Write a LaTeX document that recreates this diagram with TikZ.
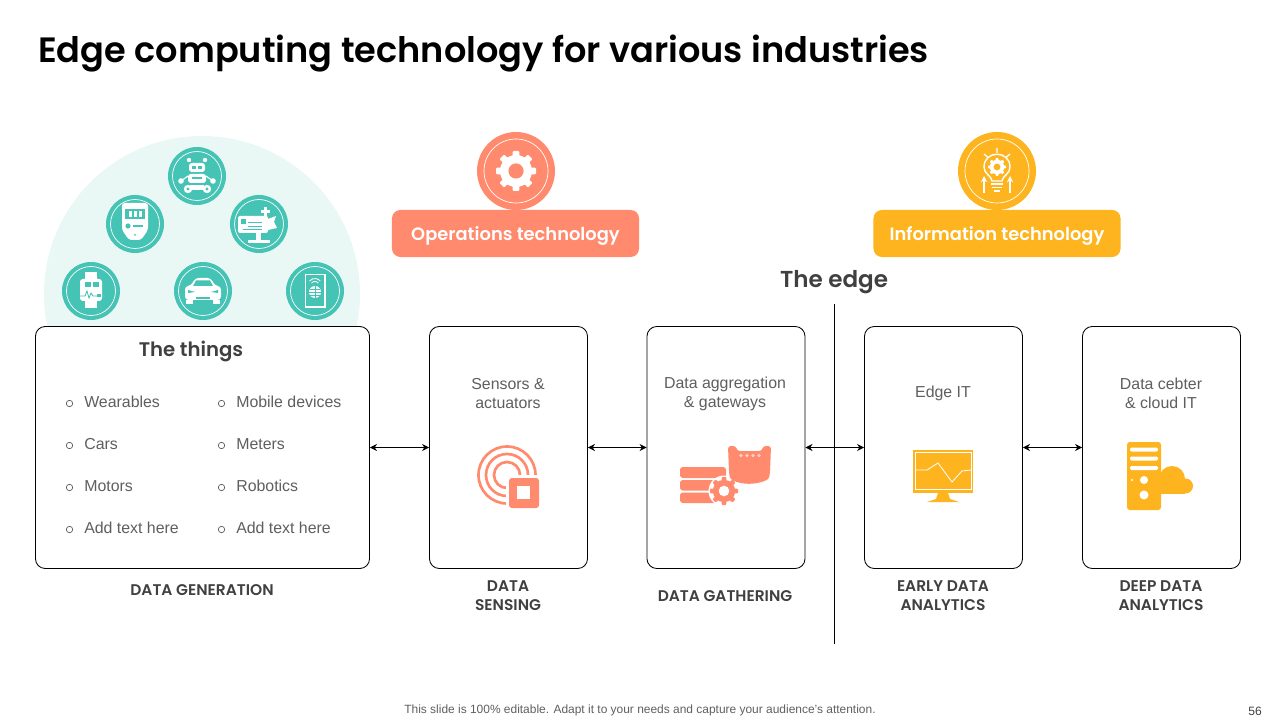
\documentclass[tikz,border=0pt]{standalone}
\usepackage{fontspec}
\setmainfont{Liberation Sans}
\newfontfamily\headfont{Poppins SemiBold}
\usetikzlibrary{arrows,arrows.meta,calc,positioning}
\definecolor{tealmark}{HTML}{45C3B4}
\definecolor{tealpale}{HTML}{E9F8F5}
\definecolor{coralmark}{HTML}{FF8A6D}
\definecolor{ambermark}{HTML}{FDB41E}
\definecolor{inkdark}{HTML}{404040}
\definecolor{inkgray}{HTML}{5F5F5F}
\tikzset{
  stagebox/.style={draw=black,line width=0.6pt,fill=white,rounded corners=7pt,
    minimum height=6.05cm,minimum width=3.95cm,inner sep=0pt},
  tagbox/.style={rounded corners=6pt,minimum height=1.175cm,minimum width=6.175cm,
    inner sep=0pt,text=white,font=\headfont\fontsize{12.7}{16}\selectfont},
  headtext/.style={text=inkdark,inner sep=0pt,font=\headfont\fontsize{#1}{#1}\selectfont},
  captext/.style={text=inkdark,inner sep=0pt,align=center,
    font=\headfont\fontsize{11}{13.5}\selectfont},
  bodytext/.style={text=inkgray,inner sep=0pt,align=center,
    font=\fontsize{11.3}{13.5}\selectfont},
  ring/.style={draw=white,line width=0.5pt},
  link/.style={{Stealth[length=5pt,width=5pt]}-{Stealth[length=5pt,width=5pt]},line width=0.6pt},
}
\newcommand{\cogwheel}[5]{%
  \foreach \a in {0,45,...,315}
    \fill[#4,rounded corners=0.6pt,shift={(#1,#2)},rotate=\a] ({-.2*#3},0) -- ({-.16*#3},#3) -- ({.16*#3},#3) -- ({.2*#3},0) -- cycle;
  \fill[#4] (#1,#2) circle ({.8*#3});
  \fill[#5] (#1,#2) circle ({.38*#3});
}
\begin{document}
\begin{tikzpicture}[x=0.025cm,y=-0.025cm,>=stealth]
    \useasboundingbox (0,0) rectangle (1280,720);
    \node[anchor=west,inner sep=0pt,text=black,font=\headfont\fontsize{25}{30}\selectfont]
      (title) at (38,54) {Edge computing technology for various industries};
    % --- the dome with its discs ---
    \fill[tealpale] (202,294) circle (158);
    \foreach \x/\y in {197/176,135/224,259/224,91/291,203/291,315/291} {
      \fill[tealmark] (\x,\y) circle (29);
      \draw[ring] (\x,\y) circle (24.5);
    }
    % robot
    \fill[white,rounded corners=2pt] (189,163) rectangle (205,172);
    \fill[tealmark] (192,166) rectangle (196,169);
    \fill[tealmark] (198,166) rectangle (202,169);
    \fill[white] (189,160) circle (2.2);
    \fill[white] (205,160) circle (2.2);
    \fill[white,rounded corners=2pt] (188,174) rectangle (206,183);
    \fill[tealmark] (192,177) rectangle (202,179);
    \fill[white] (181,181) circle (2.8);
    \fill[white] (213,181) circle (2.8);
    \draw[white,line width=0.8pt] (188,176) -- (181,181) (206,176) -- (213,181);
    \fill[white] (190,185) rectangle (204,190);
    \fill[white] (188,189) circle (4.2);
    \fill[white] (207,189) circle (4.2);
    \fill[tealmark] (188,189) circle (1.6);
    \fill[tealmark] (207,189) circle (1.6);
    % meter
    \fill[white,rounded corners=2pt] (122,203) -- (148,203) -- (148,230) -- (141,240) -- (129,240) -- (122,230) -- cycle;
    \fill[tealmark] (125,209) rectangle (145,219);
    \foreach \x in {130,135,140}
      \fill[white] (\x-1.5,211) rectangle (\x+1.5,217);
    \fill[tealmark] (128,226) circle (2.6);
    \fill[tealmark] (133,225) rectangle (143,227);
    \fill[tealmark] (135,235) circle (1);
    % motor
    \fill[white,rounded corners=1.5pt] (238,216) rectangle (268,233);
    \fill[tealmark] (241,219) rectangle (246,224);
    \draw[tealmark,line width=0.5pt] (248,222) -- (262,222) (248,226) -- (262,226) (243,229) -- (262,229);
    \fill[white] (264,207) rectangle (267,217);
    \fill[white] (261,210) rectangle (270,213);
    \fill[white] (268,219) -- (276,216) -- (274,222) -- (277,228) -- (268,230) -- cycle;
    \fill[white] (256,233) rectangle (261,241);
    \fill[white] (248,240) rectangle (270,243);
    % watch
    \fill[white] (85,272) rectangle (97,280);
    \fill[white] (85,300) rectangle (97,308);
    \fill[white,rounded corners=2pt] (80,279) rectangle (102,301);
    \fill[tealmark] (85,282) rectangle (91,287);
    \fill[tealmark] (93,282) rectangle (99,287);
    \draw[tealmark,line width=0.6pt] (79,296) -- (85,296) -- (87,291) -- (89,298) -- (91,293) -- (93,296) -- (97,296);
    \fill[tealmark] (97,294) rectangle (101,297);
    % car
    \fill[white,rounded corners=2.5pt] (185,286) -- (191,286) -- (195,278) -- (211,278) -- (215,286) -- (221,286) -- (221,300) -- (185,300) -- cycle;
    \fill[tealmark] (193,286) -- (196,280.5) -- (210,280.5) -- (213,286) -- cycle;
    \fill[white] (186,300) rectangle (193,304);
    \fill[white] (213,300) rectangle (220,304);
    \fill[tealmark] (188,290) -- (195,292) -- (188,293) -- cycle;
    \fill[tealmark] (218,290) -- (211,292) -- (218,293) -- cycle;
    \fill[tealmark] (196,297) rectangle (210,299);
    % phone
    \draw[white,line width=0.9pt] (305.5,274.5) rectangle (325,307);
    \fill[white] (315,292) circle (6);
    \draw[tealmark,line width=0.4pt] (309,292) -- (321,292) (315,286) -- (315,298) (310,289) -- (320,289) (310,295) -- (320,295);
    \draw[white,line width=0.6pt] (311.5,283) arc (220:320:4.5);
    \draw[white,line width=0.6pt] (309.5,281) arc (220:320:7);
    % --- the two heads ---
    \fill[coralmark] (516,171) circle (39);
    \draw[ring] (516,171) circle (32);
    \cogwheel{516}{171}{20}{white}{coralmark}
    \node[tagbox,fill=coralmark,text depth=0pt] (optag) at (515.5,233.5) {Operations technology};
    \fill[ambermark] (997,171) circle (39);
    \draw[ring] (997,171) circle (32);
    \node[tagbox,fill=ambermark,text depth=0pt] (ittag) at (997,233.5) {Information technology};
    % bulb
    \draw[white,line width=1pt] (992,181) .. controls (990,174) and (984,174) .. (984,167)
      .. controls (984,150) and (1010,150) .. (1010,167) .. controls (1010,174) and (1004,174) .. (1002,181) -- cycle;
    \cogwheel{997}{167}{9}{white}{ambermark}
    \draw[white,line width=1.2pt] (991,184) -- (1003,184) (992,187.5) -- (1002,187.5) (994,191) -- (1000,191);
    \draw[white,line width=0.9pt] (997,148) -- (997,153) (984,154) -- (988,157.5) (1010,154) -- (1006,157.5);
    \draw[->,white,line width=1pt] (984,193) -- (984,176);
    \draw[->,white,line width=1pt] (1010,193) -- (1010,176);
    % --- stage boxes ---
    \node[stagebox,minimum width=8.35cm] (things) at (202.5,447.5) {};
    \node[stagebox] (sensing) at (508.5,447.5) {};
    \node[stagebox] (gathering) at (726,447.5) {};
    \node[stagebox] (edgeit) at (943.5,447.5) {};
    \node[stagebox] (cloud) at (1161.5,447.5) {};
    \draw[link] (things) -- (sensing);
    \draw[link] (sensing) -- (gathering);
    \draw[link] (gathering) -- (edgeit);
    \draw[link] (edgeit) -- (cloud);
    \coordinate (edgetop) at (834.7,304);
    \coordinate (edgefoot) at (834.7,644);
    \draw[line width=0.6pt] (edgetop) -- (edgefoot);
    \node[headtext=16.4] (edgehead) at (834,282) {The edge};
    \node[headtext=14] (thingshead) at (191,351) {The things};
    % --- list in the first box ---
    \foreach \n/\x/\y/\t in {a/84/402/Wearables,b/84/444/Cars,c/84/486/Motors,d/84/528/Add text here,
                             e/236/402/Mobile devices,f/236/444/Meters,g/236/486/Robotics,h/236/528/Add text here} {
      \draw[inkgray,line width=0.5pt] (\x-14.5,\y+1.5) circle (3.2);
      \node[bodytext,anchor=west] (item\n) at (\x,\y) {\t};
    }
    \node[bodytext] (sensingtext) at (508,394) {Sensors \&\\actuators};
    \node[bodytext] (gatheringtext) at (725,394) {Data aggregation\\\& gateways};
    \node[bodytext] (edgeittext) at (943,393) {Edge IT};
    \node[bodytext] (cloudtext) at (1161,393) {Data cebter\\\& cloud IT};
    % --- icons in the boxes ---
    \foreach \r in {28.5,21,13}
      \draw[coralmark,line width=1.9pt] (507,475) circle (\r);
    \fill[white] (506,475) rectangle (541,510);
    \fill[coralmark,rounded corners=2pt] (509,478) rectangle (539,508);
    \fill[white] (517,486) rectangle (530,499);
    \fill[coralmark,rounded corners=2pt] (680,467) rectangle (726,478);
    \fill[coralmark,rounded corners=2pt] (680,480) rectangle (726,490.5);
    \fill[coralmark,rounded corners=2pt] (680,492.5) rectangle (726,503);
    \fill[white] (724,491) circle (15.5);
    \cogwheel{724}{491}{14}{coralmark}{white}
    \fill[coralmark,rounded corners=2pt] (728,446) -- (736,446) -- (737,451) -- (762,451) -- (763,446) -- (771,446)
      -- (770,472) -- (769,479) .. controls (756,485) and (742,485) .. (730,479) -- (729,472) -- cycle;
    \foreach \x in {741,747,753,759}
      \fill[white!60!coralmark] (\x,455.5) circle (1.9);
    \fill[ambermark] (913,450) rectangle (973,493);
    \draw[white,line width=0.6pt] (915,452) rectangle (971,489);
    \draw[white,line width=0.6pt] (915,470) -- (927,470) -- (938,463) -- (952,482) -- (962,471) -- (971,470);
    \fill[ambermark] (938,493) -- (948,493) -- (950,499) -- (959,502) -- (927,502) -- (936,499) -- cycle;
    \fill[ambermark,rounded corners=2pt] (1127,442) rectangle (1161,510);
    \foreach \y in {449.5,458.5,468}
      \fill[white,rounded corners=1pt] (1130,\y-2) rectangle (1158,\y+2);
    \fill[white] (1144,480) circle (4);
    \fill[white] (1144,495) circle (4.5);
    \fill[white] (1132,480) circle (1.2);
    \fill[ambermark] (1172,479) circle (13);
    \fill[ambermark] (1185.5,486) circle (7.5);
    \fill[ambermark] (1161,480) rectangle (1185,493.5);
    % --- captions ---
    \node[captext] (gencap) at (202,590.5) {DATA GENERATION};
    \node[captext] (sensecap) at (508,596) {DATA\\SENSING};
    \node[captext] (gathercap) at (725,596.5) {DATA GATHERING};
    \node[captext] (earlycap) at (943,596) {EARLY DATA\\ANALYTICS};
    \node[captext] (deepcap) at (1161,596) {DEEP DATA\\ANALYTICS};
    \node[text=inkgray,inner sep=0pt,font=\fontsize{8.5}{10}\selectfont] (footnote) at (640,710.5)
      {This slide is 100\% editable. Adapt it to your needs and capture your audience's attention.};
    \node[text=inkdark,inner sep=0pt,font=\fontsize{8.6}{10}\selectfont] (pageno) at (1255,711) {56};
  \end{tikzpicture}
\end{document}
